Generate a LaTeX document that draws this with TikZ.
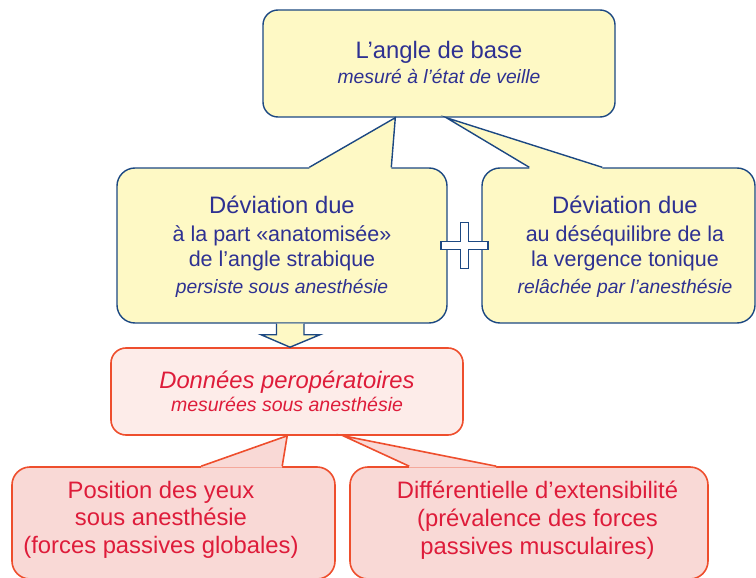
\documentclass[tikz,border=0pt]{standalone}
\usepackage{fontspec}
\setmainfont{Liberation Sans}
\usetikzlibrary{calc}
\definecolor{myblue}{RGB}{28,72,130}
\definecolor{mytext}{RGB}{46,49,146}
\definecolor{myyellow}{RGB}{254,249,197}
\definecolor{myred}{RGB}{238,78,45}
\definecolor{redtext}{RGB}{222,28,58}
\definecolor{hdrpink}{RGB}{253,236,233}
\definecolor{boxpink}{RGB}{249,217,214}
\newcommand{\fsTitle}{\fontsize{23.8}{28}\selectfont}
\newcommand{\fsMid}{\fontsize{21.5}{25}\selectfont}
\newcommand{\fsNote}{\fontsize{19.3}{25}\selectfont}
\tikzset{
  ybox/.style={rectangle, draw=myblue, fill=myyellow,
    line width=1.4pt, rounded corners=18pt, inner sep=0pt},
  rbox/.style={rectangle, draw=myred, fill=boxpink,
    line width=1.6pt, rounded corners=18pt, inner sep=0pt},
  ytext/.style={text=mytext, align=center, inner sep=0pt},
  rtext/.style={text=redtext, align=center, inner sep=0pt},
  yline/.style={draw=myblue, line width=1.4pt},
  rline/.style={draw=myred, line width=1.6pt},
  plusmark/.style={draw=myblue, fill=white, line width=1.1pt}
}
\begin{document}
\begin{tikzpicture}[x=1pt, y=-1pt]
  \useasboundingbox (0,0) rectangle (756,578);

  % Yellow boxes (awake / deviations)
  \node[ybox, rounded corners=15pt, minimum width=352pt, minimum height=107pt] (top) at (439,63.5) {};
  \node[ybox, minimum width=330pt, minimum height=155pt] (devA) at (282,245.5) {};
  \node[ybox, minimum width=273pt, minimum height=155pt] (devB) at (618.5,245.5) {};

  % Red boxes (under anesthesia)
  \node[rbox, fill=hdrpink, rounded corners=15pt, minimum width=352pt, minimum height=87pt] (perop) at (287,391.5) {};
  \node[rbox, minimum width=323pt, minimum height=112pt] (posn) at (173.5,523) {};
  \node[rbox, minimum width=358pt, minimum height=112pt] (diff) at (529,523) {};

  % Callout tails, top box to deviations
  \coordinate (tipA) at ($(top.south west)+(133,0)$);
  \coordinate (tA1) at ($(devA.north west)+(193,0)$);
  \coordinate (tA2) at ($(devA.north west)+(275,0)$);
  \fill[myyellow] ([yshift=-1.5pt]tA1) -- (tA1) -- (tipA) -- (tA2) -- ([yshift=-1.5pt]tA2) -- cycle;
  \draw[yline] (tA1) -- (tipA) -- (tA2);

  \coordinate (tipB) at ($(top.south west)+(184,0)$);
  \coordinate (tB1) at ($(devB.north west)+(48,0)$);
  \coordinate (tB2) at ($(devB.north west)+(121,0)$);
  \fill[myyellow] ([yshift=-1.5pt]tB1) -- (tB1) -- (tipB) -- (tB2) -- ([yshift=-1.5pt]tB2) -- cycle;
  \draw[yline] (tB1) -- (tipB) -- (tB2);

  % Callout tails, peroperative box to bottom boxes
  \coordinate (tipP) at ($(perop.south west)+(177,0)$);
  \coordinate (tP1) at ($(posn.north west)+(190,0)$);
  \coordinate (tP2) at ($(posn.north west)+(271,0)$);
  \fill[boxpink] ([yshift=-1.5pt]tP1) -- (tP1) -- (tipP) -- (tP2) -- ([yshift=-1.5pt]tP2) -- cycle;
  \draw[rline] (tP1) -- (tipP) -- (tP2);

  \coordinate (tipD) at ($(perop.south west)+(233,0)$);
  \coordinate (tD1) at ($(diff.north west)+(60,0)$);
  \coordinate (tD2) at ($(diff.north west)+(147,0)$);
  \fill[boxpink] ([yshift=-1.5pt]tD1) -- (tD1) -- (tipD) -- (tD2) -- ([yshift=-1.5pt]tD2) -- cycle;
  \draw[rline] (tD1) -- (tipD) -- (tD2);

  % Block arrow down to the peroperative data
  \coordinate (arr) at ([xshift=8pt]devA.south);
  \filldraw[yline, fill=myyellow] ($(arr)+(-13.5,0)$) -- ($(arr)+(-13.5,11)$) -- ($(arr)+(-29,11)$)
    -- ([xshift=3pt]perop.north) -- ($(arr)+(30,11)$) -- ($(arr)+(14,11)$) -- ($(arr)+(14,0)$);

  % Plus sign between the two deviations
  \coordinate (plus) at ($(devA.east)!0.5!(devB.west)$);
  \draw[plusmark, shift={(plus)}] (-3.75,-23) -- (3.75,-23) -- (3.75,-3.75) -- (23.5,-3.75)
    -- (23.5,3.75) -- (3.75,3.75) -- (3.75,23) -- (-3.75,23) -- (-3.75,3.75) -- (-23.5,3.75)
    -- (-23.5,-3.75) -- (-3.75,-3.75) -- cycle;

  % Texts
  \node[ytext, font=\fsNote] (top-t) at (439,62.3)
    {{\fsTitle L’angle de base}\\\textit{mesuré à l’état de veille}};
  \node[ytext, font=\fsMid] (devA-t) at (282,246.3)
    {{\fsTitle Déviation due}\\[3pt]à la part «anatomisée»\\de l’angle strabique\\[2pt]{\fsNote\itshape persiste sous anesthésie}};
  \node[ytext, font=\fsMid] (devB-t) at (625,246.3)
    {{\fsTitle Déviation due}\\[3pt]au déséquilibre de la\\la vergence tonique\\[2pt]{\fsNote\itshape relâchée par l’anesthésie}};
  \node[rtext, font={\fontsize{19.5}{23}\selectfont\itshape}] (perop-t) at (287,391)
    {{\fsTitle Données peropératoires}\\mesurées sous anesthésie};
  \node[rtext, font={\fontsize{23.8}{27.5}\selectfont}] (posn-t) at (161,519.5)
    {Position des yeux\\sous anesthésie\\(forces passives globales)};
  \node[rtext, font={\fontsize{23.8}{28}\selectfont}] (diff-t) at (537.5,520)
    {Différentielle d’extensibilité\\(prévalence des forces\\passives musculaires)};
\end{tikzpicture}
\end{document}
